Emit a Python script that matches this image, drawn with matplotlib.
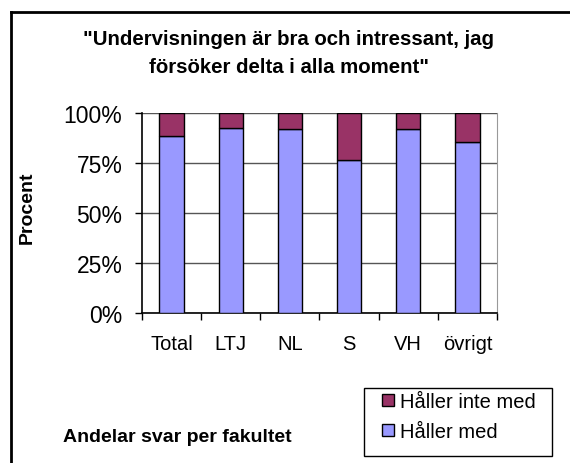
import numpy as np
import matplotlib.pyplot as plt
from matplotlib.lines import Line2D
from matplotlib.patches import Rectangle

plt.rcParams['font.family'] = ['Liberation Sans', 'DejaVu Sans']

fakulteter = ['Total', 'LTJ', 'NL', 'S', 'VH', 'övrigt']
haller_med = [88.5, 92.5, 92.0, 76.5, 92.0, 85.5]
haller_inte_med = [100 - v for v in haller_med]

fig = plt.figure(figsize=(5.70, 4.64), dpi=100)
ax = fig.add_axes([0.249, 0.323, 0.623, 0.431])

x = np.arange(len(fakulteter))
ax.bar(x, haller_med, width=0.41, color='#9999FF', edgecolor='black', linewidth=1.0,
       label='Håller med', zorder=3)
ax.bar(x, haller_inte_med, width=0.41, bottom=haller_med, color='#993366',
       edgecolor='black', linewidth=1.0, label='Håller inte med', zorder=3)

ax.set_xlim(-0.5, len(fakulteter) - 0.5)
ax.set_ylim(0, 100)
ax.set_yticks([0, 25, 50, 75, 100])
ax.set_yticklabels(['0%', '25%', '50%', '75%', '100%'], fontsize=16.5)
ax.set_xticks(x)
ax.set_xticklabels(fakulteter, fontsize=14.5)
ax.set_xticks(np.arange(-0.5, len(fakulteter)), minor=True)
ax.tick_params(axis='x', which='major', length=0, pad=15)
ax.tick_params(axis='x', which='minor', length=5, width=1, direction='out')
ax.tick_params(axis='y', length=5, width=1, direction='out', pad=9)
ax.yaxis.grid(True, color='#555555', linewidth=1, zorder=0)

ax.spines['top'].set_visible(False)
ax.spines['right'].set_color('#999999')
ax.spines['left'].set_linewidth(1.2)
ax.spines['bottom'].set_linewidth(1.2)

ax.set_ylabel('Procent', fontsize=14, fontweight='bold')
ax.yaxis.set_label_coords(-0.30, 0.53)

fig.text(0.507, 0.884, '"Undervisningen är bra och intressant, jag\nförsöker delta i alla moment"',
         ha='center', va='center', fontsize=14.7, fontweight='bold', linespacing=1.6)
fig.text(0.11, 0.057, 'Andelar svar per fakultet', ha='left', va='center',
         fontsize=14, fontweight='bold')

# legend box drawn separately, entries placed inside it
fig.add_artist(Rectangle((0.6386, 0.0151), 0.3298, 0.1466, transform=fig.transFigure,
                         facecolor='white', edgecolor='black', linewidth=1.0))
handles, labels = ax.get_legend_handles_labels()
leg = fig.legend(handles[::-1], labels[::-1], loc='upper left',
                 bbox_to_anchor=(0.670, 0.153), frameon=False,
                 fontsize=14.5, handlelength=0.6, handleheight=0.6, handletextpad=0.3,
                 labelspacing=0.55, borderpad=0, borderaxespad=0)

fig.add_artist(Line2D([0.019, 0.019], [0.0, 0.972], color='black', linewidth=2,
                      transform=fig.transFigure))
fig.add_artist(Line2D([0.019, 1.0], [0.972, 0.972], color='black', linewidth=2,
                      transform=fig.transFigure))

fig.savefig('out.png', dpi=100)
